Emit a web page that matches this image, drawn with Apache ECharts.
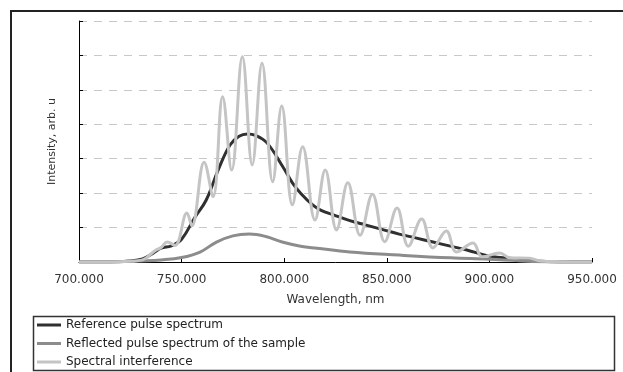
<!DOCTYPE html>
<html>
<head>
<meta charset="utf-8">
<script src="https://cdn.jsdelivr.net/npm/echarts@6/dist/echarts.min.js"></script>
<style>
html,body{margin:0;padding:0;background:#fff;}
#chart{width:623px;height:372px;}
</style>
</head>
<body>
<div id="chart"></div>
<script>
// Tick labels
const xTicks = [700, 750, 800, 850, 900, 950];
const seriesNames = ['Reference pulse spectrum', 'Reflected pulse spectrum of the sample', 'Spectral interference'];

// Reference pulse spectrum
const refX = [700, 715, 725, 731, 736, 740, 745, 750, 756.5, 762, 768, 773.6, 778, 782, 786, 791.6, 799.4, 804, 808, 814, 818, 824, 832, 840, 848, 856, 864, 872.5, 881, 889, 900, 913, 925, 935, 950];
const refY = [0, 0, 0.03, 0.09, 0.25, 0.4, 0.47, 0.66, 1.3, 1.8, 2.7, 3.4, 3.65, 3.72, 3.68, 3.46, 2.76, 2.3, 2.0, 1.65, 1.5, 1.37, 1.2, 1.07, 0.94, 0.81, 0.7, 0.58, 0.46, 0.35, 0.17, 0.09, 0.02, 0, 0];

// Reflected pulse spectrum of the sample
const reflX = [700, 720, 730, 740, 750, 759, 767, 775, 783, 791, 799, 808, 816, 832, 856, 881, 900, 913, 925, 940, 950];
const reflY = [0, 0.01, 0.03, 0.06, 0.13, 0.29, 0.58, 0.76, 0.81, 0.74, 0.58, 0.46, 0.4, 0.29, 0.2, 0.12, 0.08, 0.04, 0.01, 0, 0];

// Spectral interference
const intX = [700, 715, 725, 731, 737, 740, 743, 746.8, 752.6, 755, 761, 765.3, 770, 774.4, 779.6, 784.4, 789.2, 794.4, 798.8, 804, 809, 815, 820, 825.5, 831, 837, 843, 849, 855, 860.5, 867, 872.5, 879, 884, 892, 896.5, 905, 910, 919.5, 925, 935, 950];
const intY = [0, 0, 0.02, 0.06, 0.33, 0.42, 0.58, 0.48, 1.42, 1.05, 2.9, 1.9, 4.8, 2.67, 5.96, 2.82, 5.77, 2.33, 4.53, 1.66, 3.35, 1.22, 2.67, 0.93, 2.3, 0.78, 1.97, 0.59, 1.57, 0.46, 1.25, 0.41, 0.9, 0.29, 0.55, 0.15, 0.26, 0.12, 0.11, 0.03, 0.01, 0];

const pairs = (xs, ys) => xs.map((x, i) => [x, ys[i]]);

const colors = ['#303030', '#8c8c8c', '#c4c4c4'];
const FONT = 'DejaVu Sans';

const chart = echarts.init(document.getElementById('chart'), null, {renderer: 'canvas'});
chart.setOption({
  animation: false,
  backgroundColor: '#fff',
  grid: {left: 79, right: 31, top: 21, bottom: 110},
  xAxis: {
    type: 'value',
    min: xTicks[0], max: xTicks[xTicks.length - 1], interval: 50,
    name: 'Wavelength, nm',
    nameLocation: 'middle',
    nameGap: 32,
    nameTextStyle: {fontFamily: FONT, fontSize: 12, color: '#333'},
    axisLine: {lineStyle: {color: '#000', width: 1}},
    axisTick: {inside: true, length: 4, lineStyle: {color: '#000'}},
    axisLabel: {fontFamily: FONT, fontSize: 12, color: '#333', margin: 12,
      formatter: v => v.toFixed(3)},
    splitLine: {show: false}
  },
  yAxis: {
    type: 'value',
    min: 0, max: 7, interval: 1,
    name: 'Intensity, arb. u',
    nameLocation: 'middle',
    nameGap: 21,
    nameTextStyle: {fontFamily: FONT, fontSize: 11, color: '#333'},
    axisLine: {show: true, lineStyle: {color: '#000', width: 1}},
    axisTick: {show: true, inside: true, length: 4, lineStyle: {color: '#000'}},
    axisLabel: {show: false},
    splitLine: {show: true, lineStyle: {color: '#c8c8c8', type: [8, 7], width: 1}}
  },
  legend: {
    orient: 'vertical',
    left: 37, top: 318,
    padding: 0,
    itemGap: 4.5,
    itemWidth: 24, itemHeight: 3,
    icon: 'rect',
    textStyle: {fontFamily: FONT, fontSize: 12, color: '#222', lineHeight: 14},
    data: seriesNames
  },
  graphic: [
    {type: 'rect', shape: {x: 11, y: 11, width: 660, height: 420},
      style: {fill: 'none', stroke: '#222', lineWidth: 2}, silent: true},
    {type: 'rect', shape: {x: 33.5, y: 316.5, width: 581, height: 54},
      style: {fill: 'none', stroke: '#333', lineWidth: 1.5}, silent: true}
  ],
  series: [
    {name: seriesNames[0], type: 'line', data: pairs(refX, refY), smooth: 0.4,
      showSymbol: false, lineStyle: {color: colors[0], width: 3}, itemStyle: {color: colors[0]}},
    {name: seriesNames[1], type: 'line', data: pairs(reflX, reflY), smooth: 0.4,
      showSymbol: false, lineStyle: {color: colors[1], width: 3}, itemStyle: {color: colors[1]}},
    {name: seriesNames[2], type: 'line', data: pairs(intX, intY), smooth: 0.4,
      showSymbol: false, lineStyle: {color: colors[2], width: 3}, itemStyle: {color: colors[2]}}
  ]
});
</script>
</body>
</html>
